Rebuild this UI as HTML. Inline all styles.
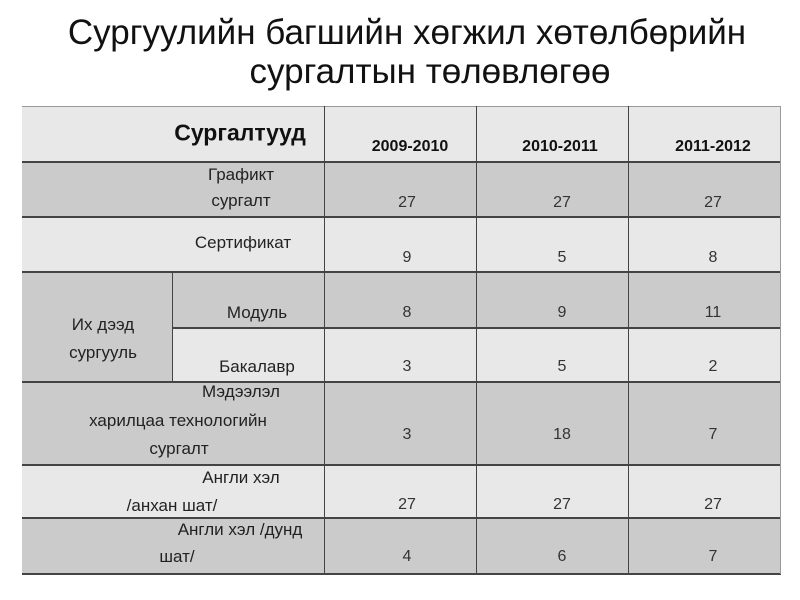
<!DOCTYPE html>
<html><head><meta charset="utf-8"><style>
body{margin:0;width:800px;height:600px;background:#fff;position:relative;overflow:hidden;font-family:"Liberation Sans",sans-serif;}
.r{position:absolute;}
.t{position:absolute;transform:translate(-50%,-50%);white-space:nowrap;color:#222;font-size:17px;}
.n{position:absolute;transform:translate(-50%,-50%);white-space:nowrap;color:#333;font-size:16px;}
.h{position:absolute;transform:translate(-50%,-50%);white-space:nowrap;color:#111;font-size:16px;font-weight:bold;}
.ln{position:absolute;background:#444;}
</style></head><body>
<div class="t" style="left:407px;top:33px;font-size:35px;color:#111">Сургуулийн багшийн хөгжил хөтөлбөрийн</div>
<div class="t" style="left:430px;top:72px;font-size:35px;color:#111">сургалтын төлөвлөгөө</div>

<div class="r" style="left:22px;top:106px;width:759px;height:55px;background:#e8e8e8"></div>
<div class="r" style="left:22px;top:161px;width:759px;height:56px;background:#cbcbcb"></div>
<div class="r" style="left:22px;top:217px;width:759px;height:55px;background:#e8e8e8"></div>
<div class="r" style="left:22px;top:272px;width:759px;height:56px;background:#cbcbcb"></div>
<div class="r" style="left:172px;top:328px;width:609px;height:54px;background:#e8e8e8"></div>
<div class="r" style="left:22px;top:328px;width:150px;height:54px;background:#cbcbcb"></div>
<div class="r" style="left:22px;top:382px;width:759px;height:83px;background:#cbcbcb"></div>
<div class="r" style="left:22px;top:465px;width:759px;height:53px;background:#e8e8e8"></div>
<div class="r" style="left:22px;top:518px;width:759px;height:56px;background:#cbcbcb"></div>

<div class="ln" style="left:22px;top:106px;width:759px;height:1px;background:#999"></div>
<div class="ln" style="left:22px;top:161px;width:759px;height:2px"></div>
<div class="ln" style="left:22px;top:216px;width:759px;height:2px"></div>
<div class="ln" style="left:22px;top:271px;width:759px;height:2px"></div>
<div class="ln" style="left:172px;top:327px;width:609px;height:2px"></div>
<div class="ln" style="left:22px;top:381px;width:759px;height:2px"></div>
<div class="ln" style="left:22px;top:464px;width:759px;height:2px"></div>
<div class="ln" style="left:22px;top:517px;width:759px;height:2px"></div>
<div class="ln" style="left:22px;top:573px;width:759px;height:2px"></div>
<div class="ln" style="left:324px;top:106px;width:1px;height:468px"></div>
<div class="ln" style="left:476px;top:106px;width:1px;height:468px"></div>
<div class="ln" style="left:628px;top:106px;width:1px;height:468px"></div>
<div class="ln" style="left:172px;top:272px;width:1px;height:110px"></div>
<div class="ln" style="left:780px;top:106px;width:1px;height:468px;background:#999"></div>

<div class="t" style="left:240px;top:133px;font-size:23px;font-weight:bold;color:#111">Сургалтууд</div>
<div class="h" style="left:410px;top:147px">2009-2010</div>
<div class="h" style="left:560px;top:147px">2010-2011</div>
<div class="h" style="left:713px;top:147px">2011-2012</div>

<div class="t" style="left:241px;top:175px">Графикт</div>
<div class="t" style="left:241px;top:201px">сургалт</div>
<div class="t" style="left:243px;top:243px">Сертификат</div>
<div class="t" style="left:257px;top:313px">Модуль</div>
<div class="t" style="left:103px;top:325px">Их дээд</div>
<div class="t" style="left:103px;top:353px">сургууль</div>
<div class="t" style="left:257px;top:367px">Бакалавр</div>
<div class="t" style="left:241px;top:392px">Мэдээлэл</div>
<div class="t" style="left:178px;top:421px">харилцаа технологийн</div>
<div class="t" style="left:179px;top:449px">сургалт</div>
<div class="t" style="left:241px;top:478px">Англи хэл</div>
<div class="t" style="left:172px;top:506px">/анхан шат/</div>
<div class="t" style="left:240px;top:530px">Англи хэл /дунд</div>
<div class="t" style="left:177px;top:557px">шат/</div>

<div class="n" style="left:407px;top:203px">27</div><div class="n" style="left:562px;top:203px">27</div><div class="n" style="left:713px;top:203px">27</div>
<div class="n" style="left:407px;top:258px">9</div><div class="n" style="left:562px;top:258px">5</div><div class="n" style="left:713px;top:258px">8</div>
<div class="n" style="left:407px;top:313px">8</div><div class="n" style="left:562px;top:313px">9</div><div class="n" style="left:713px;top:313px">11</div>
<div class="n" style="left:407px;top:367px">3</div><div class="n" style="left:562px;top:367px">5</div><div class="n" style="left:713px;top:367px">2</div>
<div class="n" style="left:407px;top:435px">3</div><div class="n" style="left:562px;top:435px">18</div><div class="n" style="left:713px;top:435px">7</div>
<div class="n" style="left:407px;top:505px">27</div><div class="n" style="left:562px;top:505px">27</div><div class="n" style="left:713px;top:505px">27</div>
<div class="n" style="left:407px;top:557px">4</div><div class="n" style="left:562px;top:557px">6</div><div class="n" style="left:713px;top:557px">7</div>
</body></html>
